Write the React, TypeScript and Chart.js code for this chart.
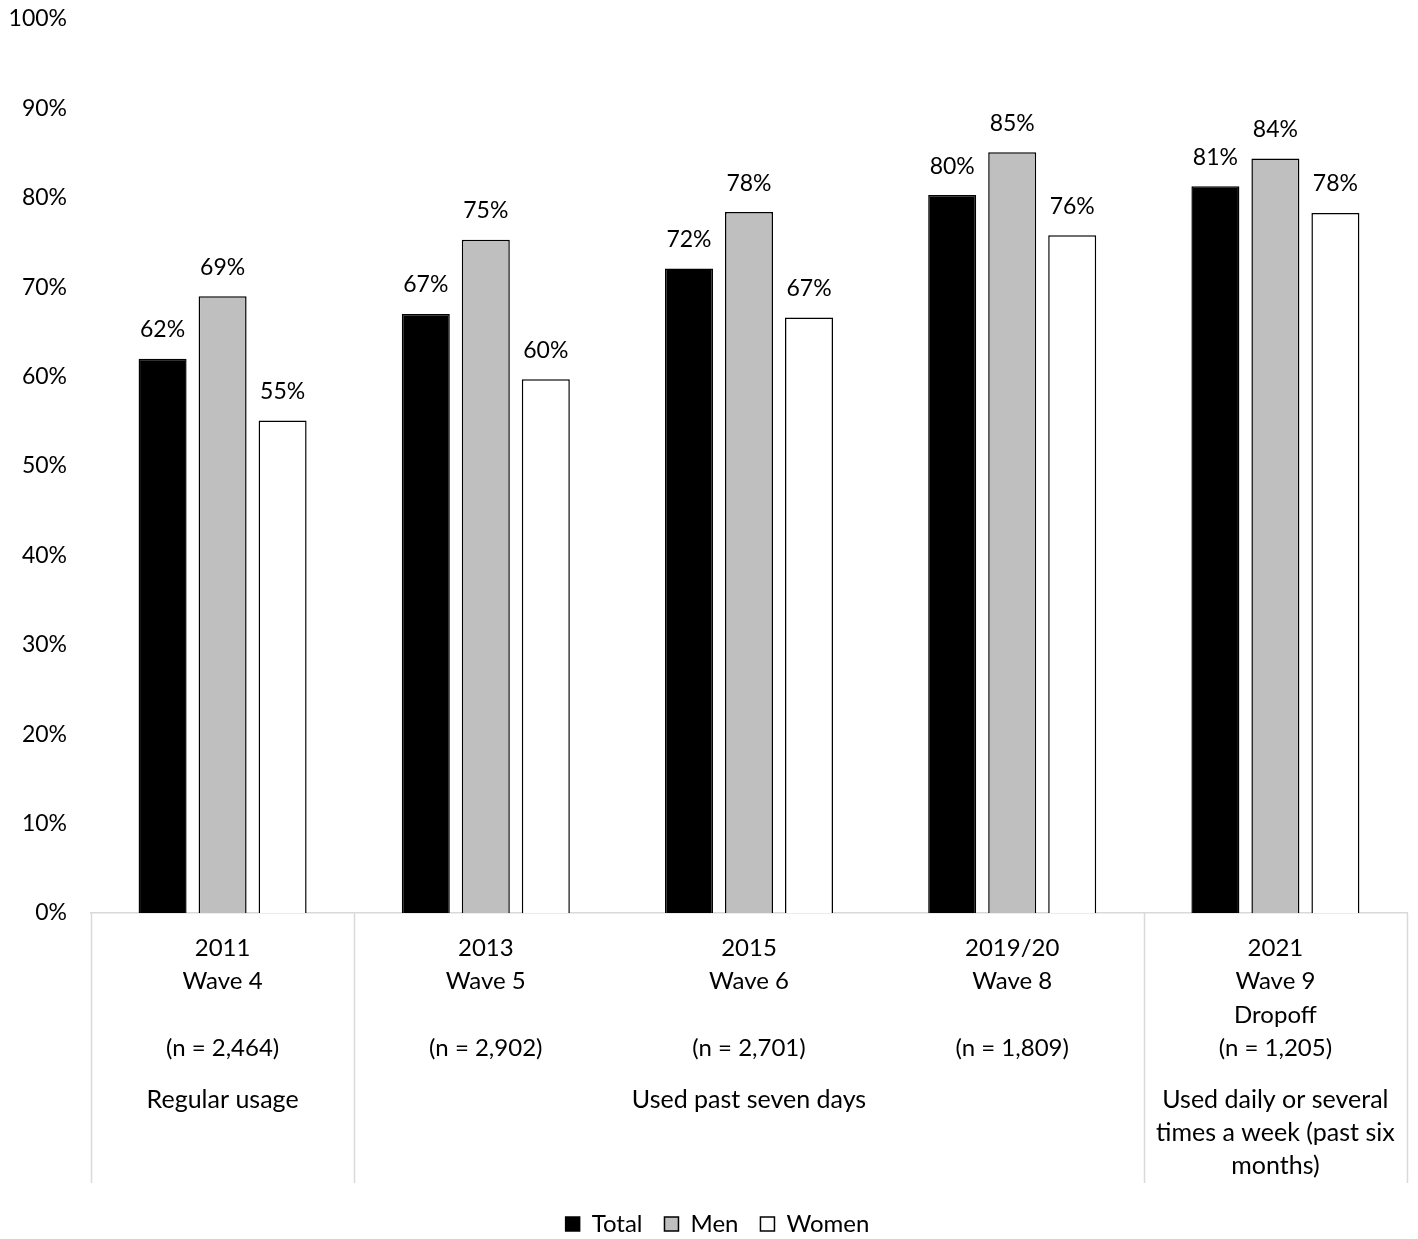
import React, { useEffect, useRef } from "react";
import { Chart, registerables } from "chart.js";
import type { Plugin } from "chart.js";

Chart.register(...registerables);

const categories: string[][] = [
  ["2011", "Wave 4", "", "(n = 2,464)"],
  ["2013", "Wave 5", "", "(n = 2,902)"],
  ["2015", "Wave 6", "", "(n = 2,701)"],
  ["2019/20", "Wave 8", "", "(n = 1,809)"],
  ["2021", "Wave 9", "Dropoff", "(n = 1,205)"],
];

const totalValues = [62.0, 67.0, 72.1, 80.3, 81.3];
const menValues = [69.0, 75.3, 78.4, 85.1, 84.4];
const womenValues = [55.1, 59.7, 66.6, 75.8, 78.3];

// measure groups: [first category index, last category index, lines]
const measureGroups: { from: number; to: number; lines: string[] }[] = [
  { from: 0, to: 0, lines: ["Regular usage"] },
  { from: 1, to: 3, lines: ["Used past seven days"] },
  { from: 4, to: 4, lines: ["Used daily or several", "times a week (past six", "months)"] },
];

const FONT = "Lato, 'Open Sans', sans-serif";
const NUM_SIZE = 23;
const TEXT_SIZE = 25;
const LEGEND_PAD = 22;

const valueLabels: Plugin<"bar"> = {
  id: "valueLabels",
  afterDatasetsDraw(chart) {
    const ctx = chart.ctx;
    ctx.save();
    ctx.font = `${NUM_SIZE}px ${FONT}`;
    ctx.fillStyle = "#000";
    ctx.textAlign = "center";
    ctx.textBaseline = "middle";
    chart.data.datasets.forEach((ds, di) => {
      const meta = chart.getDatasetMeta(di);
      meta.data.forEach((el, i) => {
        const v = ds.data[i] as number;
        ctx.fillText(`${Math.round(v)}%`, el.x, el.y - 29);
      });
    });
    ctx.restore();
  },
};

// centre the legend under the plot area instead of the whole canvas
const legendShift: Plugin<"bar"> = {
  id: "legendShift",
  afterLayout(chart) {
    const legend = chart.legend;
    if (!legend) return;
    legend.left += 14;
    legend.right += 14;
  },
};

const groupSeparators: Plugin<"bar"> = {
  id: "groupSeparators",
  afterDraw(chart) {
    const ctx = chart.ctx;
    const x = chart.scales.x;
    const area = chart.chartArea;
    const bottom = area.bottom + 270;
    const boundary = (i: number) => {
      if (i <= 0) return area.left;
      if (i >= categories.length) return area.right;
      return (x.getPixelForTick(i - 1) + x.getPixelForTick(i)) / 2;
    };
    ctx.save();
    ctx.strokeStyle = "#d9d9d9";
    ctx.lineWidth = 1.5;
    const edges = new Set<number>();
    measureGroups.forEach((g) => {
      edges.add(g.from);
      edges.add(g.to + 1);
    });
    edges.forEach((i) => {
      const px = Math.round(boundary(i)) + 0.5;
      ctx.beginPath();
      ctx.moveTo(px, area.bottom);
      ctx.lineTo(px, bottom);
      ctx.stroke();
    });
    ctx.font = `${TEXT_SIZE}px ${FONT}`;
    ctx.fillStyle = "#000";
    ctx.textAlign = "center";
    ctx.textBaseline = "middle";
    measureGroups.forEach((g) => {
      const cx = (boundary(g.from) + boundary(g.to + 1)) / 2;
      g.lines.forEach((line, li) => {
        ctx.fillText(line, cx, area.bottom + 187 + li * 33);
      });
    });
    ctx.restore();
  },
};

export default function App() {
  const canvasRef = useRef<HTMLCanvasElement | null>(null);

  useEffect(() => {
    document.body.style.margin = "0";
    const canvas = canvasRef.current;
    if (!canvas) return;
    const chart = new Chart(canvas, {
      type: "bar",
      data: {
        labels: categories,
        datasets: [
          {
            label: "Total",
            data: totalValues,
            backgroundColor: "#000000",
            borderColor: "#000000",
            borderWidth: 1.5,
          },
          {
            label: "Men",
            data: menValues,
            backgroundColor: "#bfbfbf",
            borderColor: "#000000",
            borderWidth: 1.5,
          },
          {
            label: "Women",
            data: womenValues,
            backgroundColor: "#ffffff",
            borderColor: "#000000",
            borderWidth: 1.5,
          },
        ],
      },
      options: {
        responsive: false,
        animation: false,
        categoryPercentage: 0.684,
        barPercentage: 0.8,
        layout: { padding: { top: 19, right: 11, left: 0, bottom: -7 } },
        plugins: {
          legend: {
            position: "bottom",
            labels: {
              font: { family: FONT, size: 24 },
              color: "#000",
              boxWidth: 14,
              boxHeight: 14,
              padding: LEGEND_PAD,
              useBorderRadius: false,
            },
          },
          tooltip: { enabled: false },
          title: { display: false },
        },
        scales: {
          x: {
            grid: { display: false },
            border: { display: true, color: "#d9d9d9", width: 1.5 },
            ticks: {
              font: { family: FONT, size: 24, lineHeight: 1.4 },
              color: "#000",
              padding: 10,
              maxRotation: 0,
              autoSkip: false,
            },
            afterFit(scale) {
              scale.height = 299 - LEGEND_PAD;
            },
          },
          y: {
            min: 0,
            max: 100,
            grid: { display: false },
            border: { display: false },
            ticks: {
              stepSize: 10,
              font: { family: FONT, size: NUM_SIZE },
              color: "#000",
              padding: 16,
              callback: (v) => `${v}%`,
            },
            afterFit(scale) {
              scale.width = 91;
              scale.paddingTop = 0;
              scale.paddingBottom = 0;
            },
          },
        },
      },
      plugins: [valueLabels, groupSeparators, legendShift],
    });
    return () => chart.destroy();
  }, []);

  return (
    <div style={{ width: 1418, height: 1239 }}>
      <canvas ref={canvasRef} width={1418} height={1239} />
    </div>
  );
}
